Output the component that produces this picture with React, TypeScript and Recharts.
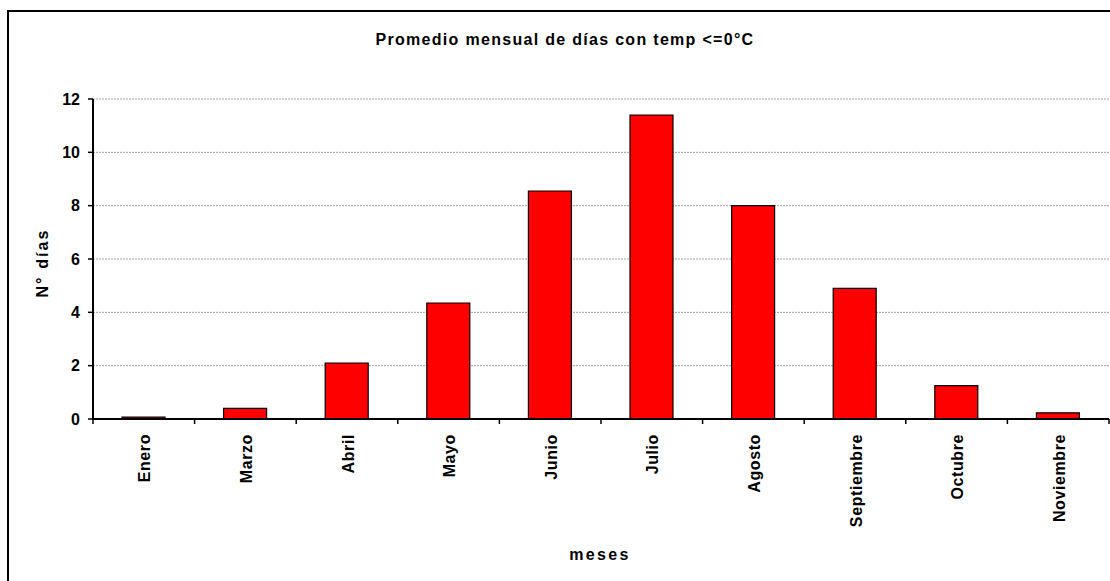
import React from 'react';
import { BarChart, Bar, XAxis, YAxis, CartesianGrid } from 'recharts';

const months = ['Enero', 'Marzo', 'Abril', 'Mayo', 'Junio', 'Julio', 'Agosto', 'Septiembre', 'Octubre', 'Noviembre'];
const dias = [0.07, 0.4, 2.1, 4.35, 8.55, 11.4, 8.0, 4.9, 1.25, 0.23];
const yTicks = [0, 2, 4, 6, 8, 10, 12];

const data = months.map((m, i) => ({ mes: m, dias: dias[i] }));

const FONT = '"Liberation Sans", Arial, sans-serif';
const W = 1110;
const H = 581;
const margin = { top: 99, right: 1, left: 33, bottom: 62 };
const Y_AXIS_W = 60;
const X_AXIS_H = 100;
const plotBottom = H - margin.bottom - X_AXIS_H;
const band = (W - margin.left - margin.right - Y_AXIS_W) / months.length;

// ticks sit between categories, like in Excel
const MonthTick = (props: any) => {
  const { x, payload, index } = props;
  const left = x - band / 2;
  return (
    <g>
      <line x1={left} y1={plotBottom} x2={left} y2={plotBottom + 5} stroke="#000" strokeWidth={1.5} />
      {index === months.length - 1 && (
        <line x1={x + band / 2} y1={plotBottom} x2={x + band / 2} y2={plotBottom + 5} stroke="#000" strokeWidth={1.5} />
      )}
      <text
        x={0}
        y={0}
        transform={`translate(${x + 1}, ${plotBottom + 15}) rotate(-90)`}
        textAnchor="end"
        dominantBaseline="central"
        fontFamily={FONT}
        fontWeight="bold"
        fontSize={16}
        letterSpacing={0.6}
        fill="#000"
      >
        {payload.value}
      </text>
    </g>
  );
};

export default function App() {
  return (
    <div style={{ position: 'absolute', left: 0, top: 0, width: W, height: H, overflow: 'hidden', background: '#fff', fontFamily: FONT }}>
      <div style={{ position: 'absolute', left: 7, top: 10, width: 1130, height: 600, border: '2px solid #000' }} />
      <div
        style={{
          position: 'absolute', left: 0, top: 31, width: 1130, textAlign: 'center',
          fontWeight: 'bold', fontSize: 16, letterSpacing: 1.3, lineHeight: '18px', color: '#000',
        }}
      >
        Promedio mensual de días con temp &lt;=0°C
      </div>
      <div
        style={{
          position: 'absolute', left: 43, top: 263, transform: 'translate(-50%, -50%) rotate(-90deg)',
          whiteSpace: 'nowrap', fontWeight: 'bold', fontSize: 16, letterSpacing: 2.1, color: '#000',
        }}
      >
        N° días
      </div>
      <div
        style={{
          position: 'absolute', left: 600, top: 555, transform: 'translate(-50%, -50%)',
          whiteSpace: 'nowrap', fontWeight: 'bold', fontSize: 16, letterSpacing: 2.3, color: '#000',
        }}
      >
        meses
      </div>
      <div style={{ position: 'absolute', left: 0, top: 0 }}>
        <BarChart width={W} height={H} data={data} margin={margin}>
          <CartesianGrid vertical={false} stroke="#a0a0a0" strokeDasharray="2 1" />
          <XAxis
            dataKey="mes"
            height={X_AXIS_H}
            interval={0}
            tickLine={false}
            axisLine={{ stroke: '#000', strokeWidth: 2 }}
            tick={<MonthTick />}
          />
          <YAxis
            width={Y_AXIS_W}
            domain={[0, 12]}
            ticks={yTicks}
            tickSize={5}
            tickMargin={8}
            axisLine={{ stroke: '#000', strokeWidth: 2 }}
            tickLine={{ stroke: '#000', strokeWidth: 1.5 }}
            tick={{ fill: '#000', fontSize: 16, fontWeight: 'bold', fontFamily: FONT }}
          />
          <YAxis
            yAxisId="r"
            orientation="right"
            width={0}
            domain={[0, 12]}
            tick={false}
            tickLine={false}
            axisLine={{ stroke: '#808080', strokeWidth: 1 }}
          />
          <Bar dataKey="dias" fill="#ff0000" stroke="#000" strokeWidth={1.2} barSize={43} isAnimationActive={false} />
        </BarChart>
      </div>
    </div>
  );
}
